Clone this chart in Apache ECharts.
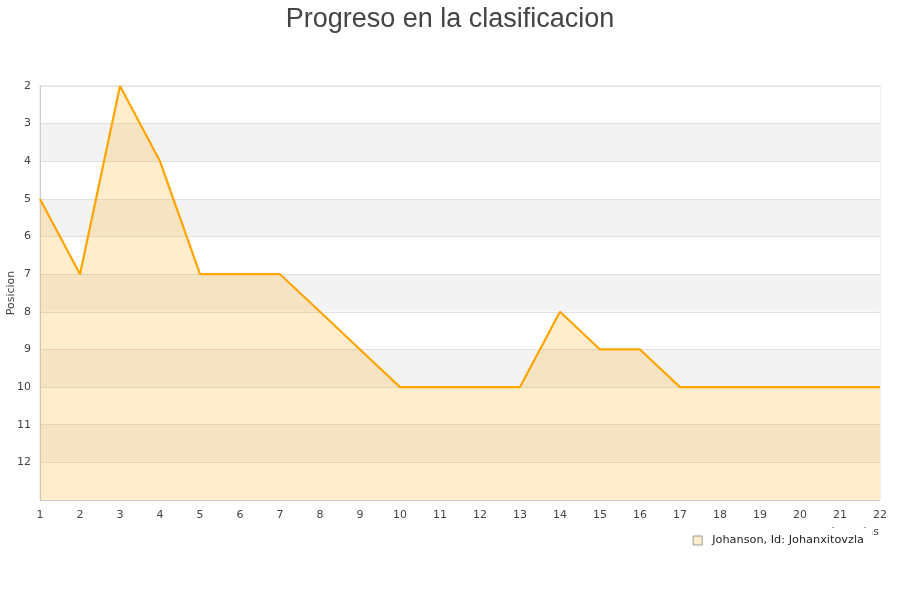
<!DOCTYPE html>
<html><head><meta charset="utf-8">
<script src="https://cdn.jsdelivr.net/npm/echarts@6/dist/echarts.min.js"></script>
<style>html,body{margin:0;padding:0;background:#fff}#c{width:900px;height:600px}</style>
</head><body><div id="c"></div>
<script>
var jornadas = [1,2,3,4,5,6,7,8,9,10,11,12,13,14,15,16,17,18,19,20,21,22];
var posiciones = [5,7,2,4,7,7,7,8,9,10,10,10,10,8,9,9,10,10,10,10,10,10];
var serieNombre = 'Johanson, Id: Johanxitovzla';
var titulo = 'Progreso en la clasificacion';

var chart = echarts.init(document.getElementById('c'));
chart.setOption({
  animation: false,
  title: { text: titulo, left: 'center', top: 1,
    textStyle: { fontSize: 27, fontWeight: 'normal', color: '#444', fontFamily: 'Liberation Sans' } },
  grid: { left: 40, right: 20, top: 86, bottom: 100, containLabel: false, outerBoundsMode: 'none',
    show: true, borderColor: '#ddd', borderWidth: 1 },
  legend: {
    right: 28, top: 528, padding: [7, 8, 5, 6], backgroundColor: '#fff',
    itemWidth: 9, itemHeight: 9, icon: 'rect',
    textStyle: { fontSize: 11.3, color: '#222', fontFamily: 'DejaVu Sans', padding: [0, 0, 0, 5] },
    data: [{ name: serieNombre, itemStyle: { color: '#ffeecc', borderColor: '#999', borderWidth: 1 } }]
  },
  xAxis: {
    type: 'value', min: 1, max: 22, interval: 1,
    name: 'Jornadas', nameLocation: 'end', nameGap: -1, nameMoveOverlap: false,
    nameTextStyle: { fontSize: 11, color: '#444', align: 'right', verticalAlign: 'top', padding: [26.5, 0, 0, 0], fontFamily: 'DejaVu Sans' },
    axisLine: { show: true, lineStyle: { color: '#ccc' } },
    axisTick: { show: false },
    splitLine: { show: false },
    axisLabel: { color: '#444', fontSize: 11, margin: 10, fontFamily: 'DejaVu Sans' }
  },
  yAxis: {
    type: 'value', inverse: true, min: 2, max: 13, interval: 1,
    name: 'Posicion', nameLocation: 'middle', nameGap: 23, nameMoveOverlap: false,
    nameTextStyle: { fontSize: 11, color: '#444', fontFamily: 'DejaVu Sans' },
    axisLine: { show: true, lineStyle: { color: '#ccc' } },
    axisTick: { show: false },
    axisLabel: { color: '#444', fontSize: 11, margin: 9, fontFamily: 'DejaVu Sans',
      formatter: function (v) { return v === 13 ? '' : v; } },
    splitLine: { show: true, lineStyle: { color: '#e0e0e0' } },
    splitArea: { show: true, areaStyle: { color: ['#ffffff', '#f3f3f3'] } }
  },
  series: [{
    name: serieNombre, type: 'line', showSymbol: false, symbol: 'none',
    data: jornadas.map(function (j, i) { return [j, posiciones[i]]; }),
    lineStyle: { color: '#ffa500', width: 2.2 },
    itemStyle: { color: '#ffa500' },
    areaStyle: { color: 'rgba(255,165,0,0.2)', opacity: 1, origin: 'end' }
  }]
});
</script></body></html>
